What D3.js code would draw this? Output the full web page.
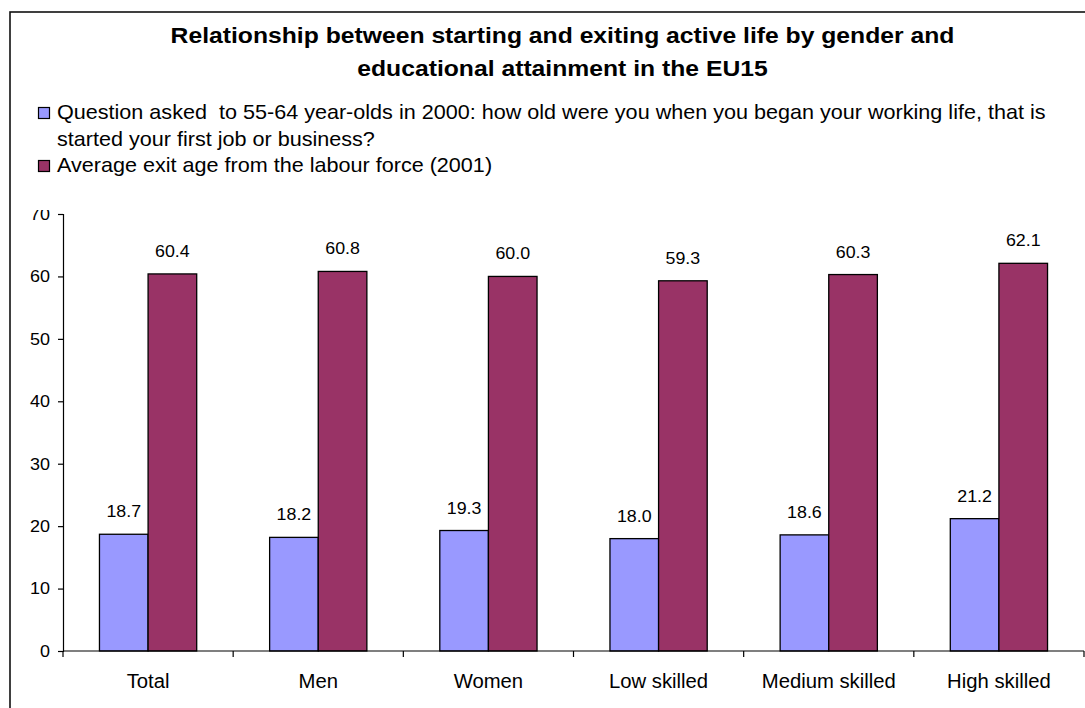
<!DOCTYPE html>
<html>
<head>
<meta charset="utf-8">
<script src="https://cdn.jsdelivr.net/npm/d3@7/dist/d3.min.js"></script>
<style>
  html, body { margin: 0; padding: 0; background: #fff; }
  svg { display: block; font-family: "Liberation Sans", Arial, sans-serif; }
  .legend-text { white-space: pre; }
</style>
</head>
<body>
<svg id="chart" width="1085" height="708"></svg>
<script>
// Categories, series and values
const categories = ["Total", "Men", "Women", "Low skilled", "Medium skilled", "High skilled"];
const seriesNames = [
  "Question asked  to 55-64 year-olds in 2000: how old were you when you began your working life, that is started your first job or business?",
  "Average exit age from the labour force (2001)"
];
const startAge = [18.7, 18.2, 19.3, 18.0, 18.6, 21.2];
const exitAge = [60.4, 60.8, 60.0, 59.3, 60.3, 62.1];
const yTicks = [0, 10, 20, 30, 40, 50, 60, 70];
const titleLines = [
  "Relationship between starting and exiting active life by gender and",
  "educational attainment in the EU15"
];
const legendLines = [
  ["Question asked  to 55-64 year-olds in 2000: how old were you when you began your working life, that is",
   "started your first job or business?"],
  ["Average exit age from the labour force (2001)"]
];
const colors = ["#9999FF", "#993366"];

const svg = d3.select("#chart");

// Widen glyphs horizontally around each text's anchor point
function stretch(sel, sx) {
  sel.each(function () {
    const t = d3.select(this);
    const x = +t.attr("x") || 0;
    const y = +t.attr("y") || 0;
    t.attr("x", 0).attr("y", 0)
      .attr("transform", `translate(${x},${y}) scale(${sx},1)`);
  });
}

// Outer chart frame (right and bottom edges lie outside the view)
svg.append("rect")
  .attr("x", 10).attr("y", 12)
  .attr("width", 1200).attr("height", 800)
  .attr("fill", "#fff")
  .attr("stroke", "#111").attr("stroke-width", 1.6);

// Title
const title = svg.append("g");
titleLines.forEach((t, i) => {
  title.append("text")
    .attr("x", 562.5).attr("y", 43 + i * 33)
    .attr("text-anchor", "middle")
    .attr("font-size", 23).attr("font-weight", "bold")
    .attr("fill", "#000")
    .text(t);
});
stretch(title.selectAll("text"), 1.075);

// Legend
const legend = svg.append("g");
const legendRows = [119, 172];
legendLines.forEach((lines, s) => {
  const base = legendRows[s];
  legend.append("rect")
    .attr("x", 38.5).attr("y", base - 11.5)
    .attr("width", 11).attr("height", 11)
    .attr("fill", colors[s]).attr("stroke", "#000").attr("stroke-width", 1.2);
  lines.forEach((line, j) => {
    legend.append("text")
      .attr("class", "legend-text")
      .attr("x", 57).attr("y", base + j * 27)
      .attr("font-size", 20).attr("fill", "#000")
      .text(line);
  });
});
stretch(legend.selectAll("text"), 1.08);

// Plot area
const plot = { left: 63, right: 1084, top: 214, bottom: 651 };

const x0 = d3.scaleBand()
  .domain(categories)
  .range([plot.left, plot.right])
  .paddingInner(0).paddingOuter(0);

const x1 = d3.scaleBand()
  .domain([0, 1])
  .range([0, x0.bandwidth()])
  .paddingInner(0).paddingOuter(0.75);

const y = d3.scaleLinear()
  .domain([0, 70])
  .range([plot.bottom, plot.top]);

// Bars
const seriesValues = [startAge, exitAge];
const groups = svg.append("g").selectAll("g")
  .data(categories)
  .join("g")
  .attr("transform", d => `translate(${x0(d)},0)`);

groups.selectAll("rect")
  .data((d, i) => seriesValues.map((vals, s) => ({ s, v: vals[i] })))
  .join("rect")
  .attr("x", d => x1(d.s))
  .attr("y", d => y(d.v))
  .attr("width", x1.bandwidth())
  .attr("height", d => y(0) - y(d.v))
  .attr("fill", d => colors[d.s])
  .attr("stroke", "#000")
  .attr("stroke-width", 1.3);

// Value labels above the bars
const valueLabels = groups.selectAll("text")
  .data((d, i) => seriesValues.map((vals, s) => ({ s, v: vals[i] })))
  .join("text")
  .attr("x", d => x1(d.s) + x1.bandwidth() / 2)
  .attr("y", d => y(d.v) - 17)
  .attr("text-anchor", "middle")
  .attr("font-size", 16.5)
  .attr("fill", "#000")
  .text(d => d.v.toFixed(1));
stretch(valueLabels, 1.08);

// Y axis; the top label is cut off by the legend area
svg.append("clipPath").attr("id", "yclip")
  .append("rect").attr("x", 0).attr("y", 210).attr("width", 200).attr("height", 500);

const yWrap = svg.append("g").attr("clip-path", "url(#yclip)");
const yAxis = yWrap.append("g")
  .attr("transform", `translate(${plot.left},0)`)
  .call(d3.axisLeft(y).tickValues(yTicks).tickSize(5).tickPadding(8).tickFormat(d3.format("d")));
yAxis.select(".domain").attr("stroke", "#000").attr("stroke-width", 1.2);
yAxis.selectAll(".tick line").attr("stroke", "#000").attr("stroke-width", 1.2);
const yLabels = yAxis.selectAll(".tick text")
  .attr("font-size", 16.5)
  .attr("font-family", "Liberation Sans, Arial, sans-serif")
  .attr("fill", "#000");
stretch(yLabels, 1.09);

// X axis: baseline, boundary ticks and category labels
const xAxis = svg.append("g");
xAxis.append("line")
  .attr("x1", plot.left).attr("x2", plot.right)
  .attr("y1", y(0)).attr("y2", y(0))
  .attr("stroke", "#000").attr("stroke-width", 1.2);
const boundaries = categories.map(c => x0(c)).concat([x0.range()[1]]);
xAxis.selectAll(".xtick")
  .data(boundaries)
  .join("line")
  .attr("class", "xtick")
  .attr("x1", d => d).attr("x2", d => d)
  .attr("y1", y(0)).attr("y2", y(0) + 6)
  .attr("stroke", "#000").attr("stroke-width", 1.2);
const xLabels = xAxis.selectAll(".xlabel")
  .data(categories)
  .join("text")
  .attr("class", "xlabel")
  .attr("x", d => x0(d) + x0.bandwidth() / 2)
  .attr("y", 688)
  .attr("text-anchor", "middle")
  .attr("font-size", 19.5)
  .attr("fill", "#000")
  .text(d => d);
stretch(xLabels, 1.04);
</script>
</body>
</html>
